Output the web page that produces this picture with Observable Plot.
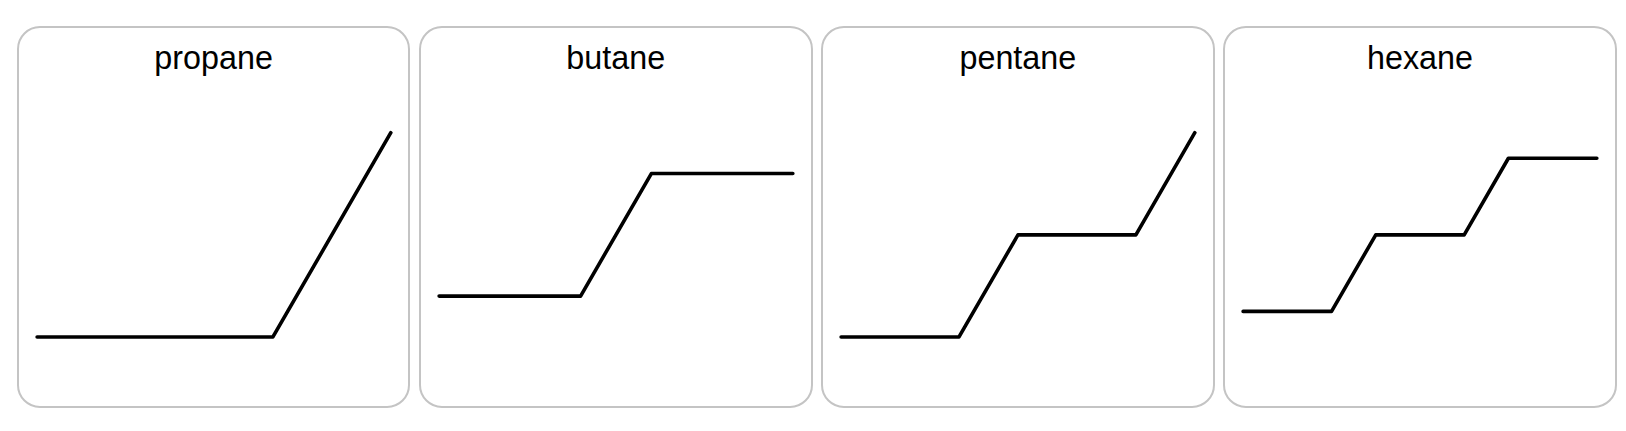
<!DOCTYPE html>
<html>
<head>
<meta charset="utf-8">
<script src="https://cdn.jsdelivr.net/npm/d3@7"></script>
<script src="https://cdn.jsdelivr.net/npm/@observablehq/plot@0.6"></script>
<style>
  body { margin: 0; background: #fff; font-family: "Liberation Sans", Arial, sans-serif; }
  #row { position: absolute; left: 16px; top: 25px; display: flex; gap: 8px; zoom: 1.0423; }
  .panel { position: relative; width: 374px; height: 363px; border: 2px solid #c4c4c4; border-radius: 22px; overflow: hidden; }
  .panel h2 { position: absolute; top: 11px; left: 0; right: 0; margin: 0; text-align: center; font-weight: normal; font-size: 31px; }
  .panel svg { position: absolute; left: -2px; top: -2px; }
</style>
</head>
<body>
<div id="row"></div>
<script>
const molecules = ["propane", "butane", "pentane", "hexane"];
const xs = [
  [0, 2, 3],
  [0, 2, 3, 5],
  [0, 2, 3, 5, 6],
  [0, 2, 3, 5, 6, 8]
];
const ys = [
  [0, 0, 1.732],
  [0, 0, 1.732, 1.732],
  [0, 0, 1.732, 1.732, 3.464],
  [0, 0, 1.732, 1.732, 3.464, 3.464]
];

const W = 378, H = 367, X0 = 19, X1 = 362, CY = 202;
const row = document.getElementById("row");

molecules.forEach((name, i) => {
  let pts = xs[i].map((x, j) => ({ x: x, y: ys[i][j] }));
  let xmin = d3.min(xs[i]), xmax = d3.max(xs[i]);
  let k = (X1 - X0) / (xmax - xmin);
  let ymid = (d3.min(ys[i]) + d3.max(ys[i])) / 2;

  let chart = Plot.plot({
    width: W,
    height: H,
    margin: 0,
    x: { domain: [xmin, xmax], range: [X0, X1], axis: null },
    y: { domain: [ymid - (H - CY) / k, ymid + CY / k], range: [H, 0], axis: null },
    marks: [
      Plot.line(pts, { x: "x", y: "y", stroke: "black", strokeWidth: 3.5, strokeLinecap: "round", strokeLinejoin: "round" })
    ]
  });

  let panel = document.createElement("div");
  panel.className = "panel";
  let h = document.createElement("h2");
  h.textContent = name;
  panel.append(chart);
  panel.append(h);
  row.append(panel);
});
</script>
</body>
</html>
